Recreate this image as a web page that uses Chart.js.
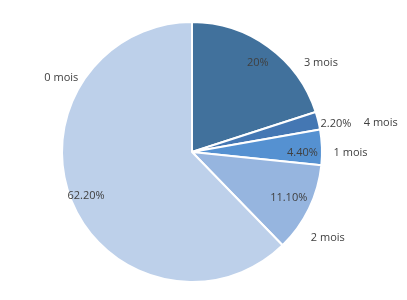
<!DOCTYPE html>
<html>
<head>
<meta charset="utf-8">
<script src="https://cdn.jsdelivr.net/npm/chart.js@4"></script>
<style>
  html, body { margin: 0; padding: 0; background: #fff; }
  #wrap { width: 407px; height: 300px; }
</style>
</head>
<body>
<div id="wrap"><canvas id="pieChart"></canvas></div>
<script>
// data
var categories = ["3 mois", "4 mois", "1 mois", "2 mois", "0 mois"];
var values = [20, 2.2, 4.4, 11.1, 62.2];
var colors = ["#41719C", "#4477B3", "#5591D1", "#96B5DF", "#BDD0EA"];

// label placement: [radius factor, angle shift in deg]
var pctPos = [[0.86, 0], [1.13, 2.5], [0.85, 2], [0.82, -1], [0.88, 0]];
var catPos = [[1.21, 19], [1.47, 5], [1.22, 2], [1.23, 6], [1.16, 52]];

function fmt(v) {
  return (v % 1 === 0 ? v : v.toFixed(2)) + "%";
}

var labelPlugin = {
  id: 'pieLabels',
  afterDatasetsDraw: function (chart) {
    var ctx = chart.ctx;
    var arcs = chart.getDatasetMeta(0).data;
    ctx.save();
    ctx.font = "11px 'Open Sans', sans-serif";
    ctx.fillStyle = "#404040";
    ctx.textAlign = "center";
    ctx.textBaseline = "middle";
    arcs.forEach(function (arc, i) {
      var p = arc.getProps(['x', 'y', 'startAngle', 'endAngle', 'outerRadius'], true);
      var mid = (p.startAngle + p.endAngle) / 2;
      var r = p.outerRadius;
      var a1 = mid + pctPos[i][1] * Math.PI / 180;
      ctx.fillText(fmt(values[i]), p.x + Math.cos(a1) * r * pctPos[i][0], p.y + 1 + Math.sin(a1) * r * pctPos[i][0]);
      var a2 = mid + catPos[i][1] * Math.PI / 180;
      ctx.fillText(categories[i], p.x + Math.cos(a2) * r * catPos[i][0], p.y + 1 + Math.sin(a2) * r * catPos[i][0]);
    });
    ctx.restore();
  }
};

var ctxP = document.getElementById("pieChart").getContext('2d');
var myPieChart = new Chart(ctxP, {
  type: 'pie',
  data: {
    labels: categories,
    datasets: [{
      data: values,
      backgroundColor: colors,
      borderColor: "#ffffff",
      borderWidth: 2
    }]
  },
  options: {
    responsive: true,
    maintainAspectRatio: false,
    animation: false,
    layout: { padding: { left: 0, right: 23, top: 21, bottom: 17 } },
    plugins: {
      legend: { display: false },
      tooltip: { enabled: false }
    }
  },
  plugins: [labelPlugin]
});
</script>
</body>
</html>
